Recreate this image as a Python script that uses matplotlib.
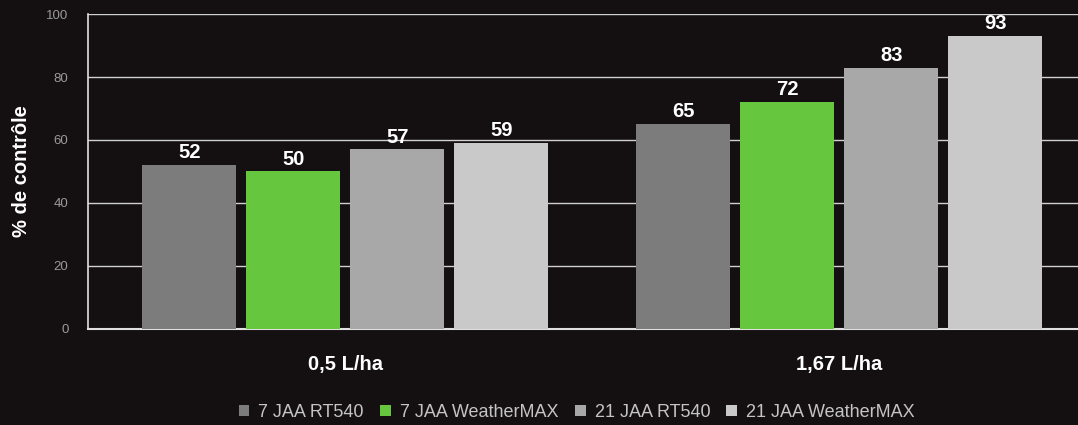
import matplotlib
matplotlib.use("Agg")
import matplotlib.pyplot as plt
import numpy as np

plt.rcParams['font.family'] = ['Liberation Sans', 'DejaVu Sans']

groups = ["0,5 L/ha", "1,67 L/ha"]
series = ["7 JAA RT540", "7 JAA WeatherMAX", "21 JAA RT540", "21 JAA WeatherMAX"]
values = [
    [52, 65],
    [50, 72],
    [57, 83],
    [59, 93],
]
colors = ["#7c7c7c", "#66c63e", "#a8a8a8", "#c9c9c9"]
yticks = [0, 20, 40, 60, 80, 100]

bg = "#141011"
fig = plt.figure(figsize=(10.78, 4.25), dpi=100, facecolor=bg)
ax = fig.add_axes([0.0816, 0.226, 0.9184, 0.741], facecolor=bg)

x = np.arange(len(groups))
width = 0.19
step = 0.2105
offsets = (np.arange(len(series)) - 1.5) * step
handles = []
for i, (name, vals, c) in enumerate(zip(series, values, colors)):
    b = ax.bar(x + offsets[i], vals, width, color=c, label=name, zorder=3)
    handles.append(b)
    for xi, v in zip(x + offsets[i], vals):
        ax.text(xi, v + 0.9, str(v), ha="center", va="bottom", color="white",
                fontsize=14.5, fontweight="bold", zorder=4)

ax.set_xlim(-0.521, 1.483)
ax.set_ylim(0, 100)
ax.set_yticks(yticks)
ax.set_yticklabels([str(t) for t in yticks], color="#9a9a9a", fontsize=9.5)
ax.tick_params(axis="y", length=0, pad=14)
ax.set_xticks(x)
ax.set_xticklabels(groups, color="white", fontsize=14.5, fontweight="bold")
ax.tick_params(axis="x", length=0, pad=19)
ax.yaxis.grid(True, color="#d0d0d0", linewidth=1.0, zorder=1)
ax.set_axisbelow(True)
for s in ["top", "right"]:
    ax.spines[s].set_visible(False)
ax.spines["left"].set_color("#e0e0e0")
ax.spines["bottom"].set_color("#e0e0e0")
ax.spines["left"].set_linewidth(1.2)
ax.spines["bottom"].set_linewidth(1.5)

ax.set_ylabel("% de contrôle", color="white", fontsize=14.5, fontweight="bold", labelpad=11)

leg = fig.legend(handles=handles, labels=series, loc="center", bbox_to_anchor=(0.535, 0.03),
                 ncol=4, frameon=False, fontsize=13, handlelength=0.6, handleheight=0.6,
                 handletextpad=0.5, columnspacing=0.9)
for t in leg.get_texts():
    t.set_color("#c4c4c4")

fig.savefig("out.png", dpi=100, facecolor=bg)
